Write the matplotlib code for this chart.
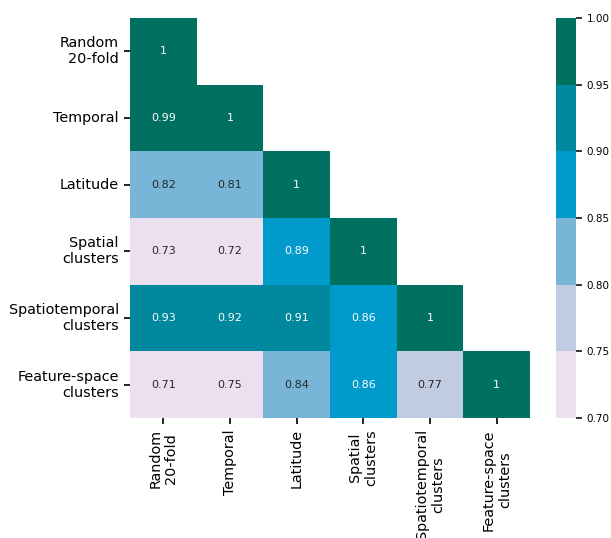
import numpy as np
import matplotlib
matplotlib.use("Agg")
import matplotlib.pyplot as plt
from matplotlib.colors import ListedColormap
import seaborn as sns

labels = ["Random\n20-fold", "Temporal", "Latitude", "Spatial\nclusters",
          "Spatiotemporal\nclusters", "Feature-space\nclusters"]

# lower-triangle correlation values, row by row
row_random = [1.0]
row_temporal = [0.99, 1.0]
row_latitude = [0.82, 0.81, 1.0]
row_spatial = [0.73, 0.72, 0.89, 1.0]
row_spatiotemporal = [0.93, 0.92, 0.91, 0.86, 1.0]
row_feature = [0.71, 0.749, 0.84, 0.86, 0.77, 1.0]

rows = [row_random, row_temporal, row_latitude, row_spatial, row_spatiotemporal, row_feature]
n = len(labels)
corr = np.full((n, n), np.nan)
for i, r in enumerate(rows):
    corr[i, :len(r)] = r
mask = np.triu(np.ones((n, n), dtype=bool), k=1)

colors = ["#ece0ef", "#c1cce3", "#78b5d6", "#009acb", "#00889e", "#007060"]
cmap = ListedColormap(colors)

fig = plt.figure(figsize=(6.11, 5.38), dpi=100)
ax = fig.add_axes([130/611, 1-418/538, 400/611, 400/538])
cax = fig.add_axes([556/611, 1-418/538, 20/611, 400/538])

sns.heatmap(corr, mask=mask, cmap=cmap, vmin=0.7, vmax=1.0, annot=True, fmt=".2g",
            annot_kws={"fontsize": 8}, ax=ax, cbar_ax=cax,
            xticklabels=labels, yticklabels=labels, square=False)
ax.tick_params(axis="both", labelsize=10.4, length=4.5, width=1.2)
plt.setp(ax.get_xticklabels(), rotation=90, ha="center")
plt.setp(ax.get_yticklabels(), rotation=0, ha="right", multialignment="right")
cax.tick_params(labelsize=7.5, length=4, width=1.1)
cax.set_yticks([0.7, 0.75, 0.8, 0.85, 0.9, 0.95, 1.0])
cax.set_yticklabels(["0.70", "0.75", "0.80", "0.85", "0.90", "0.95", "1.00"])
for s in cax.spines.values():
    s.set_visible(False)

fig.savefig("out.png", dpi=100)
